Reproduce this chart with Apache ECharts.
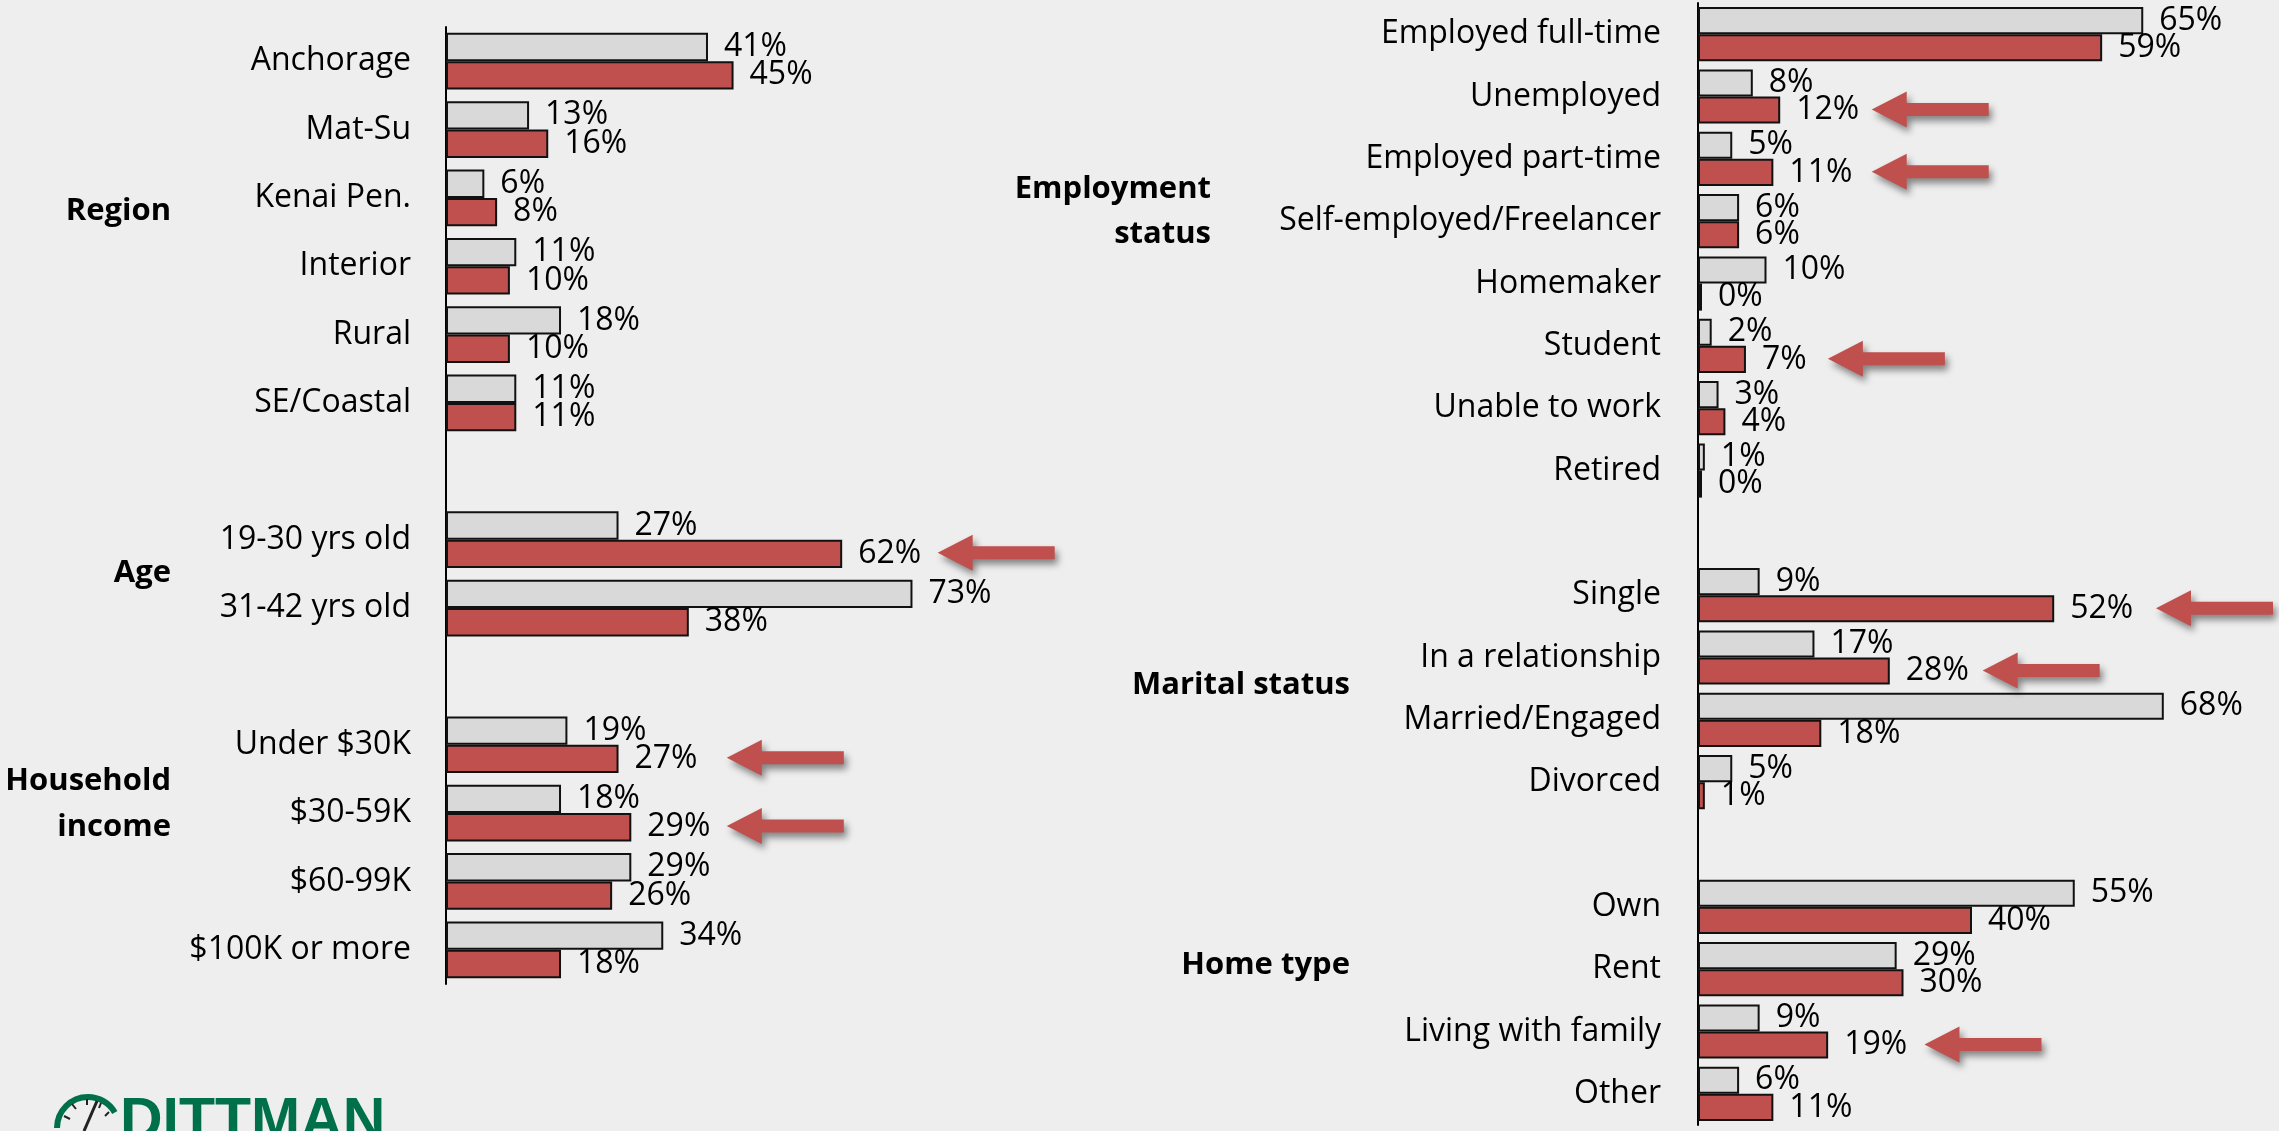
<!DOCTYPE html>
<html>
<head>
<meta charset="utf-8">
<script src="https://cdn.jsdelivr.net/npm/echarts@6/dist/echarts.min.js"></script>
<style>
html,body{margin:0;padding:0;background:#eeeeee;}
#chart{width:2279px;height:1131px;}
</style>
</head>
<body>
<div id="chart"></div>
<script>
// ---- Data ----
const leftCategories = ['Anchorage','Mat-Su','Kenai Pen.','Interior','Rural','SE/Coastal','',
  '19-30 yrs old','31-42 yrs old','',
  'Under $30K','$30-59K','$60-99K','$100K or more'];
const leftGrey = [41,13,6,11,18,11,null,27,73,null,19,18,29,34];
const leftRed  = [45,16,8,10,10,11,null,62,38,null,27,29,26,18];

const rightCategories = ['Employed full-time','Unemployed','Employed part-time','Self-employed/Freelancer',
  'Homemaker','Student','Unable to work','Retired','',
  'Single','In a relationship','Married/Engaged','Divorced','',
  'Own','Rent','Living with family','Other'];
const rightGrey = [65,8,5,6,10,2,3,1,null,9,17,68,5,null,55,29,9,6];
const rightRed  = [59,12,11,6,0,7,4,0,null,52,28,18,1,null,40,30,19,11];

// Highlight arrows: category and the arrow's centre value on the value axis
const leftArrowCats = ['19-30 yrs old','Under $30K','$30-59K'];
const leftArrowAt = [86.1,53.1,53.1];
const rightArrowCats = ['Unemployed','Employed part-time','Student','Single','In a relationship','Living with family'];
const rightArrowAt = [33.9,33.9,27.5,75.4,50.1,41.6];

// Group titles
const leftGroupTitles = [['Region'],['Age'],['Household','income']];
const rightGroupTitles = [['Employment','status'],['Marital status'],['Home type']];

// ---- Styles ----
const FONT = '"Open Sans", "Noto Sans", sans-serif';
const GREY = '#d9d9d9', RED = '#c0504d';
const ARROW = 'path://M0,18 L35,0 L35,11.5 L117,11.5 L117,24.5 L35,24.5 L35,36 Z';

function barSeries(data, color, idx, gap) {
  return {
    type:'bar', xAxisIndex:idx, yAxisIndex:idx, data:data,
    barGap:'0%', barCategoryGap:gap, barMinHeight:4,
    itemStyle:{color:color, borderColor:'#111', borderWidth:2},
    label:{show:true, position:'right', distance:16, formatter:(p)=>p.value+'%',
      fontSize:32, color:'#000', fontFamily:FONT}
  };
}
function arrowSeries(cats, allCats, vals, idx) {
  return {
    type:'scatter', xAxisIndex:idx, yAxisIndex:idx, clip:false, silent:true, z:5,
    symbol:ARROW, symbolSize:[117,36], symbolKeepAspect:false, symbolOffset:[0,13],
    itemStyle:{color:RED, opacity:1, shadowColor:'rgba(0,0,0,0.45)', shadowBlur:7, shadowOffsetX:3, shadowOffsetY:5},
    data: cats.map((c,i)=>[vals[i], allCats.indexOf(c)])
  };
}
function yAx(idx, data, margin) {
  return {type:'category', gridIndex:idx, data:data, inverse:true,
    axisLine:{show:true, lineStyle:{color:'#000', width:2}},
    axisTick:{show:false},
    axisLabel:{fontSize:32, color:'#000', fontFamily:FONT, margin:margin}};
}

const titleFont = 'bold 31px ' + FONT;
const graphics = [];
const gPos = {left:[[171,211],[171,573],[171,781]], right:[[1211,189],[1350,685],[1350,965]]};
leftGroupTitles.forEach((lines,i)=>lines.forEach((t,j)=>graphics.push({type:'text', style:{text:t, x:gPos.left[i][0], y:gPos.left[i][1]+j*46, align:'right', verticalAlign:'middle', font:titleFont, fill:'#000'}})));
rightGroupTitles.forEach((lines,i)=>lines.forEach((t,j)=>graphics.push({type:'text', style:{text:t, x:gPos.right[i][0], y:gPos.right[i][1]+j*45, align:'right', verticalAlign:'middle', font:titleFont, fill:'#000'}})));
// Logo
graphics.push({type:'text', style:{text:'DITTMAN', x:120, y:1093, align:'left', verticalAlign:'top', font:'bold 59px "Liberation Sans", Arial, sans-serif', fill:'#00704a'}});
graphics.push({type:'arc', shape:{cx:88, cy:1128, r:31, startAngle:Math.PI, endAngle:Math.PI*11/6, clockwise:true}, style:{stroke:'#00704a', lineWidth:6, fill:null}});
graphics.push({type:'line', shape:{x1:84, y1:1131, x2:97, y2:1101}, style:{stroke:'#222', lineWidth:3}});
[[64,1116,70,1119],[72,1104,76,1109],[87,1099,87,1105],[101,1103,99,1108],[109,1112,105,1116]].forEach(s=>graphics.push({type:'line', shape:{x1:s[0],y1:s[1],x2:s[2],y2:s[3]}, style:{stroke:'#222', lineWidth:2}}));

const option = {
  backgroundColor:'#eeeeee',
  animation:false,
  grid:[{left:446, top:27, width:639, height:957}, {left:1698, top:3, width:548, height:1122}],
  xAxis:[{type:'value', gridIndex:0, min:0, max:100, show:false},
         {type:'value', gridIndex:1, min:0, max:80, show:false}],
  yAxis:[yAx(0, leftCategories, 35), yAx(1, rightCategories, 37)],
  series:[
    barSeries(leftGrey, GREY, 0, '17%'),
    barSeries(leftRed, RED, 0, '17%'),
    barSeries(rightGrey, GREY, 1, '13%'),
    barSeries(rightRed, RED, 1, '13%'),
    arrowSeries(leftArrowCats, leftCategories, leftArrowAt, 0),
    arrowSeries(rightArrowCats, rightCategories, rightArrowAt, 1)
  ],
  graphic:graphics
};
const chart = echarts.init(document.getElementById('chart'));
chart.setOption(option);
</script>
</body>
</html>
